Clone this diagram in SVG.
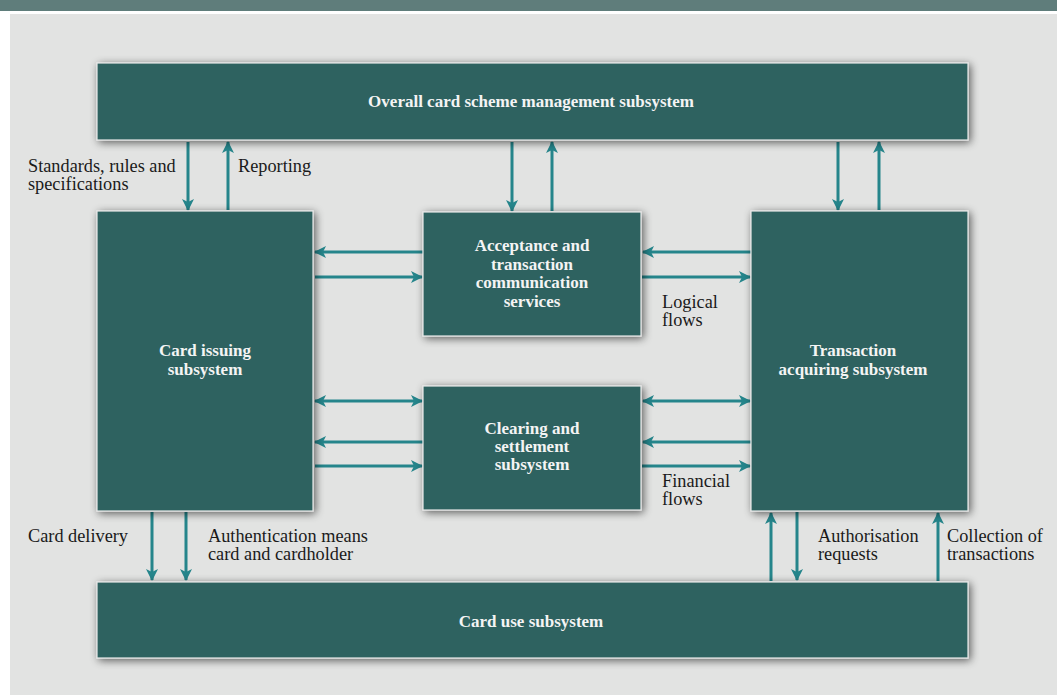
<svg xmlns="http://www.w3.org/2000/svg" width="1057" height="695" viewBox="0 0 1057 695">
<defs>
<style>
.box{fill:#2f6260;stroke:#e8e8e8;stroke-width:1.2;filter:url(#sh)}
.bt{font-family:"Liberation Serif","Times New Roman",serif;font-weight:bold;font-size:17px;fill:#f4f4f4;text-anchor:middle}
.lb{font-family:"Liberation Serif","Times New Roman",serif;font-size:18.3px;fill:#1a1a1a}
.ar{stroke:#25858b;stroke-width:3;fill:none}
</style>
<filter id="sh" x="-10%" y="-20%" width="120%" height="140%">
<feGaussianBlur in="SourceAlpha" stdDeviation="4"/>
<feOffset dx="2" dy="2" result="b"/>
<feComponentTransfer><feFuncA type="linear" slope="0.6"/></feComponentTransfer>
<feMerge><feMergeNode/><feMergeNode in="SourceGraphic"/></feMerge>
</filter>
<marker id="ah" viewBox="0 0 12 12" refX="11" refY="6" markerWidth="12" markerHeight="12" markerUnits="userSpaceOnUse" orient="auto-start-reverse">
<path d="M0,0 L12,6 L0,12 L3,6 Z" fill="#25858b"/>
</marker>
</defs>
<rect x="0" y="0" width="1057" height="695" fill="#ffffff"/>
<rect x="0" y="0" width="1057" height="11" fill="#5f7d7b"/>
<rect x="10" y="14" width="1047" height="681" fill="#e2e3e2"/>

<g id="connectors">
<line class="ar" x1="188" y1="142" x2="188" y2="210" marker-end="url(#ah)"/>
<line class="ar" x1="228" y1="210" x2="228" y2="142" marker-end="url(#ah)"/>
<line class="ar" x1="512" y1="142" x2="512" y2="211" marker-end="url(#ah)"/>
<line class="ar" x1="552" y1="211" x2="552" y2="142" marker-end="url(#ah)"/>
<line class="ar" x1="838" y1="142" x2="838" y2="210" marker-end="url(#ah)"/>
<line class="ar" x1="879" y1="210" x2="879" y2="142" marker-end="url(#ah)"/>

<line class="ar" x1="423" y1="252" x2="315" y2="252" marker-end="url(#ah)"/>
<line class="ar" x1="315" y1="277" x2="422" y2="277" marker-end="url(#ah)"/>
<line class="ar" x1="751" y1="252" x2="643" y2="252" marker-end="url(#ah)"/>
<line class="ar" x1="642" y1="277" x2="750" y2="277" marker-end="url(#ah)"/>

<line class="ar" x1="315" y1="401" x2="422" y2="401" marker-start="url(#ah)" marker-end="url(#ah)"/>
<line class="ar" x1="423" y1="442" x2="315" y2="442" marker-end="url(#ah)"/>
<line class="ar" x1="315" y1="466" x2="422" y2="466" marker-end="url(#ah)"/>
<line class="ar" x1="643" y1="401" x2="750" y2="401" marker-start="url(#ah)" marker-end="url(#ah)"/>
<line class="ar" x1="751" y1="442" x2="643" y2="442" marker-end="url(#ah)"/>
<line class="ar" x1="642" y1="466" x2="750" y2="466" marker-end="url(#ah)"/>

<line class="ar" x1="152" y1="512" x2="152" y2="580" marker-end="url(#ah)"/>
<line class="ar" x1="186" y1="512" x2="186" y2="580" marker-end="url(#ah)"/>
<line class="ar" x1="771" y1="581" x2="771" y2="513" marker-end="url(#ah)"/>
<line class="ar" x1="797" y1="512" x2="797" y2="580" marker-end="url(#ah)"/>
<line class="ar" x1="938" y1="581" x2="938" y2="513" marker-end="url(#ah)"/>
</g>

<g id="labels">
<text class="lb" x="28" y="172">Standards, rules and</text>
<text class="lb" x="28" y="190">specifications</text>
<text class="lb" x="238" y="172">Reporting</text>
<text class="lb" x="662" y="308">Logical</text>
<text class="lb" x="662" y="326">flows</text>
<text class="lb" x="662" y="487">Financial</text>
<text class="lb" x="662" y="505">flows</text>
<text class="lb" x="28" y="542">Card delivery</text>
<text class="lb" x="208" y="542">Authentication means</text>
<text class="lb" x="208" y="560">card and cardholder</text>
<text class="lb" x="818" y="542">Authorisation</text>
<text class="lb" x="818" y="560">requests</text>
<text class="lb" x="947" y="542">Collection of</text>
<text class="lb" x="947" y="560">transactions</text>
</g>

<g id="overall">
<rect class="box" x="97" y="63" width="871" height="77"/>
<text class="bt" x="531" y="107">Overall card scheme management subsystem</text>
</g>
<g id="issuing">
<rect class="box" x="97" y="211" width="216" height="300"/>
<text class="bt" x="205" y="356">Card issuing</text>
<text class="bt" x="205" y="375">subsystem</text>
</g>
<g id="acceptance">
<rect class="box" x="423" y="212" width="218" height="124"/>
<text class="bt" x="532" y="251">Acceptance and</text>
<text class="bt" x="532" y="270">transaction</text>
<text class="bt" x="532" y="288">communication</text>
<text class="bt" x="532" y="307">services</text>
</g>
<g id="clearing">
<rect class="box" x="423" y="386" width="218" height="124"/>
<text class="bt" x="532" y="434">Clearing and</text>
<text class="bt" x="532" y="452">settlement</text>
<text class="bt" x="532" y="470">subsystem</text>
</g>
<g id="acquiring">
<rect class="box" x="751" y="211" width="217" height="300"/>
<text class="bt" x="853" y="356">Transaction</text>
<text class="bt" x="853" y="375">acquiring subsystem</text>
</g>
<g id="carduse">
<rect class="box" x="97" y="582" width="871" height="76"/>
<text class="bt" x="531" y="627">Card use subsystem</text>
</g>
</svg>
